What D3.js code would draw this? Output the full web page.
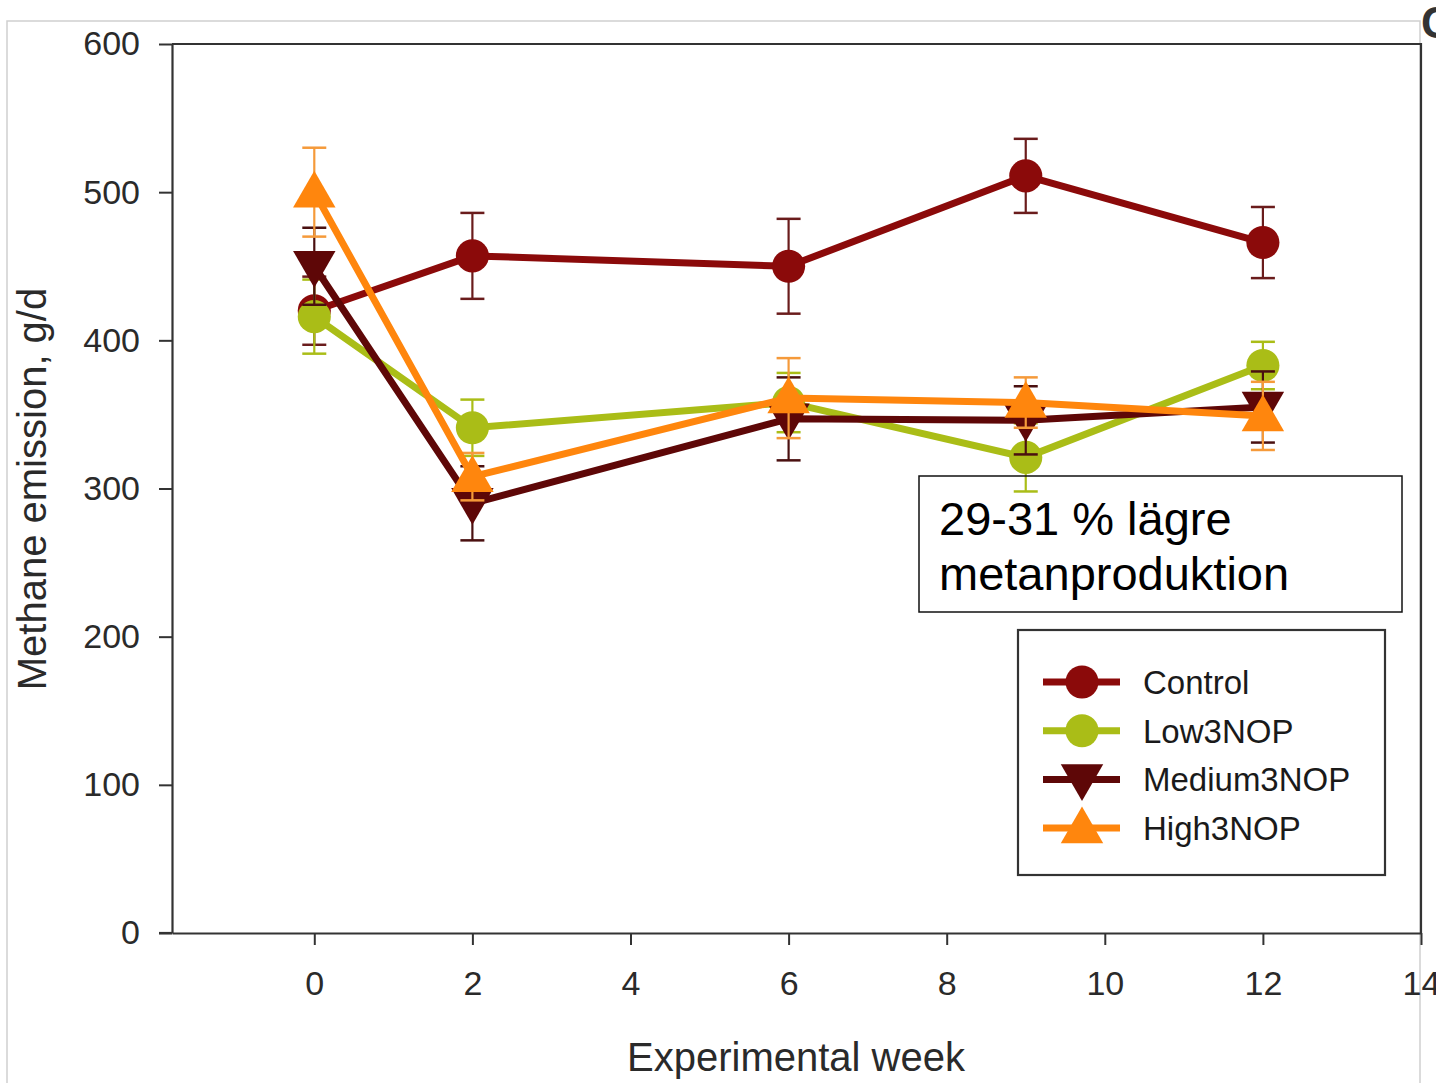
<!DOCTYPE html>
<html>
<head>
<meta charset="utf-8">
<script src="https://cdn.jsdelivr.net/npm/d3@7"></script>
<style>
  html, body { margin: 0; padding: 0; background: #fff; }
  svg { display: block; font-family: "Liberation Sans", Arial, Helvetica, sans-serif; }
</style>
</head>
<body>
<svg width="1436" height="1083"></svg>
<script>
// weeks sampled in the trial
const weeks = [0, 2, 6, 9, 12];
const xTicks = [0, 2, 4, 6, 8, 10, 12, 14];
const yTicks = [0, 100, 200, 300, 400, 500, 600];

// mean methane emission (g/d) and standard error per group
const controlMean = [420, 457, 450, 511, 466];
const controlErr  = [23, 29, 32, 25, 24];
const lowMean     = [416, 341, 358, 321, 383];
const lowErr      = [25, 19, 20, 23, 16];
const mediumMean  = [450, 290, 347, 346, 355];
const mediumErr   = [26, 25, 28, 23, 24];
const highMean    = [500, 308, 361, 358, 349];
const highErr     = [30, 16, 27, 17, 23];

const groupNames = ["Control", "Low3NOP", "Medium3NOP", "High3NOP"];
const annotation = ["29-31 % lägre", "metanproduktion"];

const series = [
    { name: groupNames[0], mean: controlMean, err: controlErr, color: "#8b0a0a", errColor: "#6a1c1c", shape: "circle" },
    { name: groupNames[1], mean: lowMean, err: lowErr, color: "#aabd17", errColor: "#aabd17", shape: "circle" },
    { name: groupNames[2], mean: mediumMean, err: mediumErr, color: "#5e0707", errColor: "#4a1010", shape: "down" },
    { name: groupNames[3], mean: highMean, err: highErr, color: "#ff860d", errColor: "#f59a3a", shape: "up" }
];

const svg = d3.select("svg");

const x = d3.scaleLinear().domain([-1.8, 14]).range([172, 1421]);
const y = d3.scaleLinear().domain([0, 600]).range([933, 44]);

// outer grey frame of the figure
svg.append("rect")
    .attr("x", 7).attr("y", 21)
    .attr("width", 1413).attr("height", 1100)
    .attr("fill", "none")
    .attr("stroke", "#cfcfcf")
    .attr("stroke-width", 1.5);

// panel letter, clipped at the right edge
svg.append("text")
    .attr("x", 1421).attr("y", 38)
    .attr("font-size", 44)
    .attr("font-weight", "bold")
    .attr("fill", "#333")
    .text("C");

// plot frame (top + right)
svg.append("path")
    .attr("d", `M${x(-1.8)},${y(600)}H${x(14)}V${y(0)}`)
    .attr("fill", "none")
    .attr("stroke", "#333")
    .attr("stroke-width", 2.2);

const xAxis = svg.append("g")
    .attr("transform", `translate(0,${y(0)})`)
    .call(d3.axisBottom(x).tickValues(xTicks).tickSize(12).tickPadding(26).tickSizeOuter(0));

const yAxis = svg.append("g")
    .attr("transform", `translate(${x(-1.8)},0)`)
    .call(d3.axisLeft(y).tickValues(yTicks).tickSize(13).tickPadding(19).tickSizeOuter(0));

[xAxis, yAxis].forEach(g => {
    g.select(".domain").attr("stroke", "#333").attr("stroke-width", 2.2);
    g.selectAll(".tick line").attr("stroke", "#333").attr("stroke-width", 2);
    g.selectAll(".tick text")
        .attr("font-size", 34)
        .attr("font-family", "'Liberation Sans', Arial, sans-serif")
        .attr("fill", "#2a2a2a");
});
// x-axis line extends to meet the y tick at 0
svg.append("line")
    .attr("x1", x(-1.8) - 13).attr("x2", x(-1.8))
    .attr("y1", y(0)).attr("y2", y(0))
    .attr("stroke", "#333").attr("stroke-width", 2.2);

// axis titles
svg.append("text")
    .attr("x", 796).attr("y", 1071)
    .attr("text-anchor", "middle")
    .attr("font-size", 40)
    .attr("fill", "#2a2a2a")
    .text("Experimental week");

svg.append("text")
    .attr("transform", "translate(46,489) rotate(-90)")
    .attr("text-anchor", "middle")
    .attr("font-size", 40)
    .attr("fill", "#2a2a2a")
    .text("Methane emission, g/d");

const symbolSize = { circle: 860, down: 780, up: 780 };
function markerPath(shape) {
    const type = shape === "circle" ? d3.symbolCircle : d3.symbolTriangle;
    return d3.symbol().type(type).size(symbolSize[shape])();
}
function markerTransform(shape, px, py) {
    if (shape === "down") return `translate(${px},${py - 3}) rotate(180)`;
    if (shape === "up") return `translate(${px},${py + 3})`;
    return `translate(${px},${py})`;
}

const line = d3.line().x(d => x(d.w)).y(d => y(d.v));

series.forEach(s => {
    const pts = weeks.map((w, i) => ({ w: w, v: s.mean[i], e: s.err[i] }));
    const g = svg.append("g");

    // error bars
    const eb = g.selectAll(".eb").data(pts).enter().append("g");
    eb.append("line")
        .attr("x1", d => x(d.w)).attr("x2", d => x(d.w))
        .attr("y1", d => y(d.v + d.e)).attr("y2", d => y(d.v - d.e))
        .attr("stroke", s.errColor).attr("stroke-width", 2.2);
    [1, -1].forEach(sign => {
        eb.append("line")
            .attr("x1", d => x(d.w) - 12).attr("x2", d => x(d.w) + 12)
            .attr("y1", d => y(d.v + sign * d.e)).attr("y2", d => y(d.v + sign * d.e))
            .attr("stroke", s.errColor).attr("stroke-width", 2.5);
    });

    g.append("path")
        .datum(pts)
        .attr("d", line)
        .attr("fill", "none")
        .attr("stroke", s.color)
        .attr("stroke-width", 7)
        .attr("stroke-linejoin", "round");

    g.selectAll(".mk").data(pts).enter().append("path")
        .attr("d", markerPath(s.shape))
        .attr("transform", d => markerTransform(s.shape, x(d.w), y(d.v)))
        .attr("fill", s.color);
});

// annotation box
svg.append("rect")
    .attr("x", 919).attr("y", 476)
    .attr("width", 483).attr("height", 136)
    .attr("fill", "none")
    .attr("stroke", "#111")
    .attr("stroke-width", 1.5);

svg.append("text")
    .attr("font-size", 47)
    .attr("fill", "#000")
    .selectAll("tspan")
    .data(annotation)
    .enter().append("tspan")
    .attr("x", 939)
    .attr("y", (d, i) => 535 + i * 55)
    .text(d => d);

// legend
const legend = svg.append("g");
legend.append("rect")
    .attr("x", 1018).attr("y", 630)
    .attr("width", 367).attr("height", 245)
    .attr("fill", "#fff")
    .attr("stroke", "#333")
    .attr("stroke-width", 2.2);

const legendRow = legend.selectAll(".row")
    .data(series)
    .enter().append("g")
    .attr("transform", (d, i) => `translate(0,${682 + i * 48.7})`);

legendRow.append("line")
    .attr("x1", 1043).attr("x2", 1120)
    .attr("stroke", d => d.color)
    .attr("stroke-width", 7);

legendRow.append("path")
    .attr("d", d => markerPath(d.shape))
    .attr("transform", d => markerTransform(d.shape, 1082, 0))
    .attr("fill", d => d.color);

legendRow.append("text")
    .attr("x", 1143).attr("y", 12)
    .attr("font-size", 33)
    .attr("fill", "#1a1a1a")
    .text(d => d.name);
</script>
</body>
</html>
